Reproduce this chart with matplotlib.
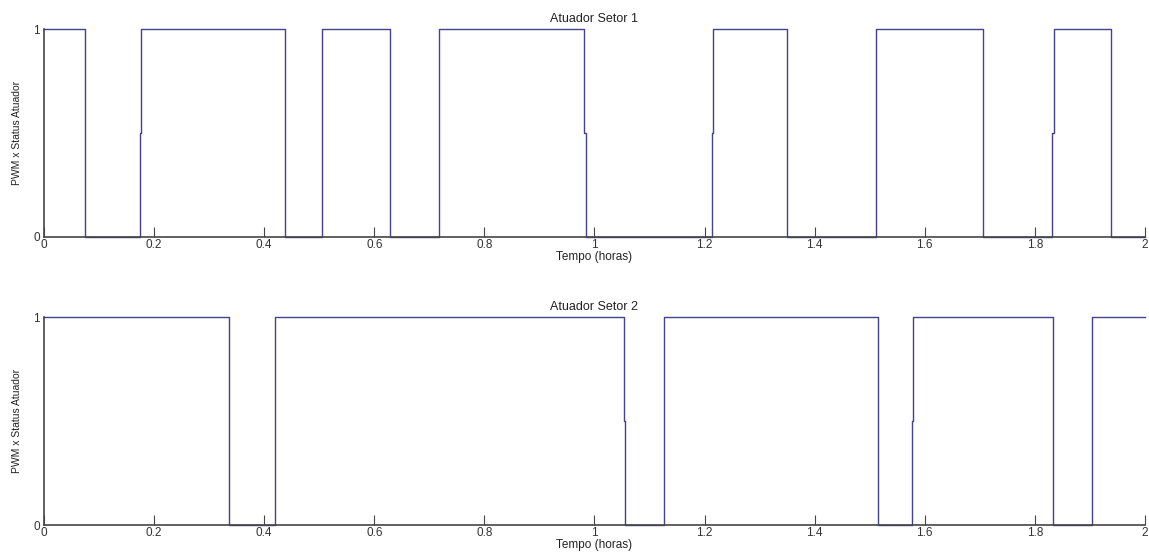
import matplotlib
matplotlib.use('Agg')
import matplotlib.pyplot as plt

# transition times (horas) and the level held from each time on
setor1_t = [0, 0.0752, 0.1735, 0.1759, 0.4386, 0.505, 0.629, 0.717, 0.9812,
            0.9837, 1.2126, 1.215, 1.3495, 1.512, 1.705, 1.832, 1.834, 1.9386, 2.0]
setor1_v = [1, 0, 0.5, 1, 0, 1, 0, 1, 0.5, 0, 0.5, 1, 0, 1, 0, 0.5, 1, 0, 0]

setor2_t = [0, 0.336, 0.4204, 1.0538, 1.0563, 1.1259, 1.515, 1.5759, 1.578,
            1.833, 1.904, 2.0]
setor2_v = [1, 0, 1, 0.5, 0, 1, 0, 0.5, 1, 0, 1, 1]

titles = ['Atuador Setor 1', 'Atuador Setor 2']
xticks = [0, 0.2, 0.4, 0.6, 0.8, 1, 1.2, 1.4, 1.6, 1.8, 2]
xticklabels = ['0', '0.2', '0.4', '0.6', '0.8', '1', '1.2', '1.4', '1.6', '1.8', '2']

plt.rcParams['font.family'] = ['Liberation Sans', 'DejaVu Sans']
plt.rcParams['font.size'] = 8.5

line_color = '#42428e'
axis_color = '#454545'
text_color = '#333333'

fig = plt.figure(figsize=(11.49, 5.55), dpi=100)
ax1 = fig.add_axes([0.0383, 0.573, 0.9582, 0.3747])
ax2 = fig.add_axes([0.0383, 0.054, 0.9582, 0.3748])

for ax, t, v, title in zip([ax1, ax2], [setor1_t, setor2_t], [setor1_v, setor2_v], titles):
    ax.plot(t, v, drawstyle='steps-post', color=line_color, lw=1.0, clip_on=False)
    ax.set_xlim(0, 2)
    ax.set_ylim(0, 1)
    ax.set_xticks(xticks)
    ax.set_xticklabels(xticklabels)
    ax.set_yticks([0, 1])
    ax.set_yticklabels(['0', '1'])
    ax.tick_params(direction='in', length=7, width=0.8, colors=axis_color,
                   labelcolor=text_color, pad=1.5)
    ax.tick_params(axis='y', length=0, pad=3)
    for s in ['top', 'right']:
        ax.spines[s].set_visible(False)
    for s in ['left', 'bottom']:
        ax.spines[s].set_color(axis_color)
        ax.spines[s].set_linewidth(1.2)
    ax.set_title(title, fontsize=9, pad=5, color='#222222')
    ax.set_xlabel('Tempo (horas)', labelpad=0, color='#222222')
    ax.set_ylabel('PWM x Status Atuador', fontsize=7.5, labelpad=8, color='#222222')

fig.savefig('out.png', dpi=100, facecolor='white')
